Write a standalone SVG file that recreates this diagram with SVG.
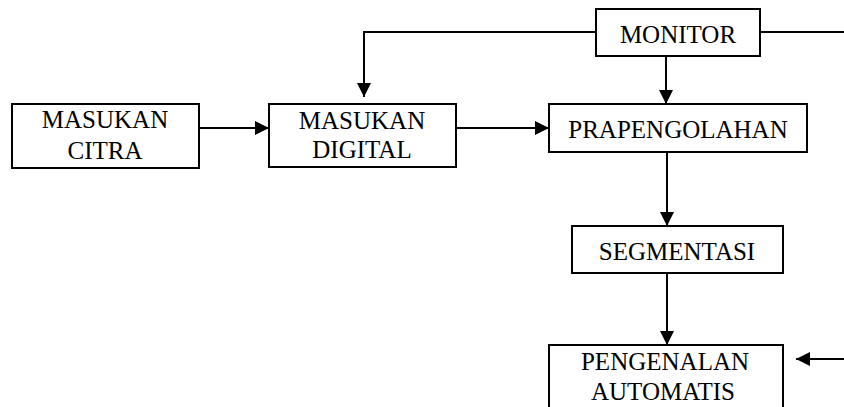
<svg xmlns="http://www.w3.org/2000/svg" width="844" height="407" viewBox="0 0 844 407">
<defs>
<marker id="ah" markerWidth="14" markerHeight="14" viewBox="0 0 14 14" refX="14" refY="7" orient="auto" markerUnits="userSpaceOnUse">
<path d="M0,0 L14,7 L0,14 Z" fill="#000"/>
</marker>
<style>
.box{fill:#fff;stroke:#000;stroke-width:2}
.t{font-size:25px;fill:#000;text-anchor:middle}
.c{fill:none;stroke:#000;stroke-width:2}
</style>
</defs>
<rect width="844" height="407" fill="#fff"/>
<g id="connectors">
<path class="c" d="M199,128 H269" marker-end="url(#ah)"/>
<path class="c" d="M456,128 H549" marker-end="url(#ah)"/>
<path class="c" d="M596,32 H364 V97" marker-end="url(#ah)"/>
<path class="c" d="M760,32 H844"/>
<path class="c" d="M666,56 V104" marker-end="url(#ah)"/>
<path class="c" d="M667,152 V226" marker-end="url(#ah)"/>
<path class="c" d="M667,273 V345" marker-end="url(#ah)"/>
<path class="c" d="M844,359 H796" marker-end="url(#ah)"/>
</g>
<g font-family="Liberation Serif, Times New Roman, serif">
<g id="masukan-citra">
<rect class="box" x="12" y="104" width="187" height="64"/>
<text class="t" x="105" y="128">MASUKAN</text>
<text class="t" x="105" y="159">CITRA</text>
</g>
<g id="masukan-digital">
<rect class="box" x="269" y="104" width="187" height="63"/>
<text class="t" x="362" y="129">MASUKAN</text>
<text class="t" x="362" y="158">DIGITAL</text>
</g>
<g id="monitor">
<rect class="box" x="596" y="9" width="164" height="47"/>
<text class="t" x="678" y="43">MONITOR</text>
</g>
<g id="prapengolahan">
<rect class="box" x="549" y="104" width="258" height="48"/>
<text class="t" x="678" y="138">PRAPENGOLAHAN</text>
</g>
<g id="segmentasi">
<rect class="box" x="572" y="226" width="211" height="47"/>
<text class="t" x="677" y="260">SEGMENTASI</text>
</g>
<g id="pengenalan-automatis">
<rect class="box" x="549" y="345" width="234" height="70"/>
<text class="t" x="665" y="370">PENGENALAN</text>
<text class="t" x="663" y="400">AUTOMATIS</text>
</g>
</g>
</svg>
